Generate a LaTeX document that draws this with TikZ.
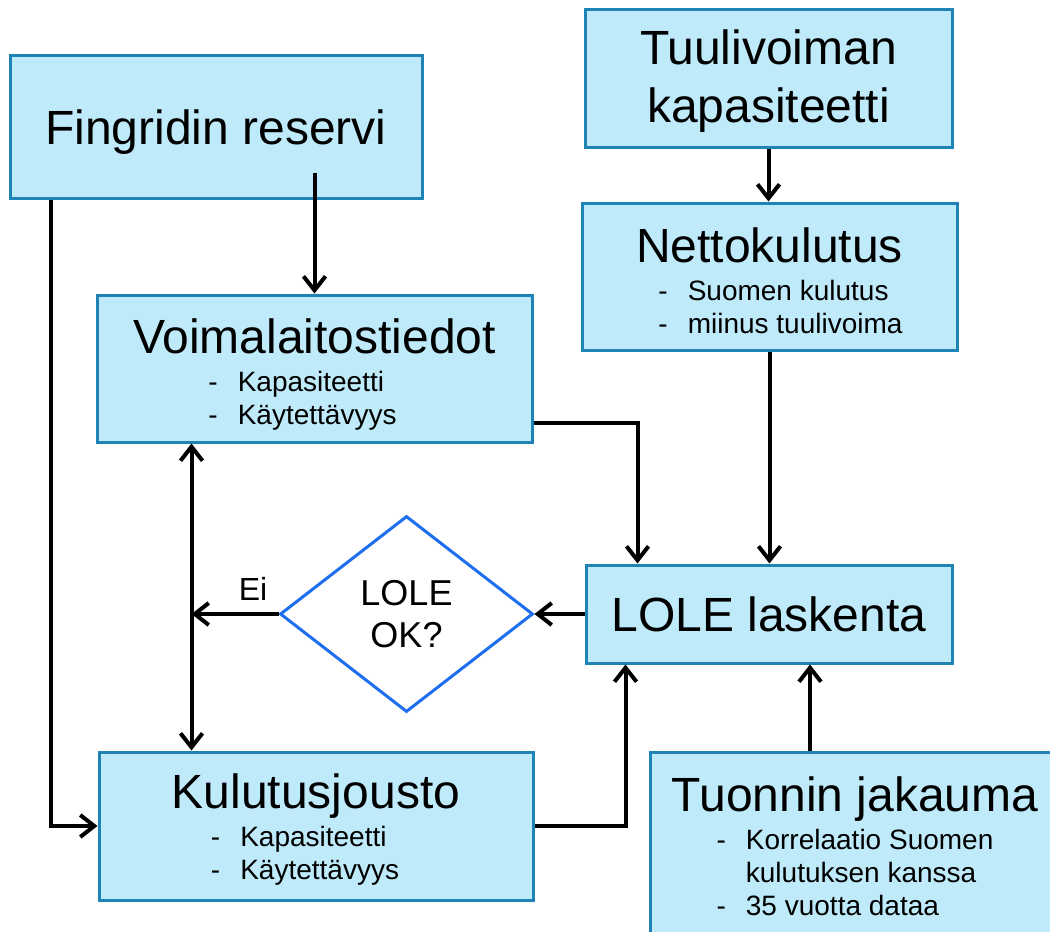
\documentclass[tikz,border=0pt]{standalone}
\usepackage{fontspec}
\setmainfont{Liberation Sans}
\usepackage{tikz}
\usetikzlibrary{arrows.meta,positioning,shapes.geometric}
\usepackage{xcolor}
\definecolor{boxfill}{HTML}{BEEAFA}
\definecolor{boxline}{HTML}{1F83B5}
\definecolor{checkline}{HTML}{1E6EF0}
\newcommand{\sublist}[2][0pt]{\hspace*{#1}{\fontsize{14}{16.5}\selectfont\begin{tabular}[t]{@{}l@{\hspace{10pt}}l@{}}#2\end{tabular}}}

\begin{document}
\begin{tikzpicture}[
      x=0.5pt, y=-0.5pt,
      >={Straight Barb[length=7pt,width=11pt]},
      block/.style={draw=boxline, fill=boxfill, line width=1.5pt, inner sep=0pt, align=center, font=\fontsize{24}{29}\selectfont},
      check/.style={draw=checkline, fill=white, line width=1.5pt, diamond, inner sep=0pt, minimum width=126.5pt, minimum height=98pt, align=center, font=\fontsize{18}{21}\selectfont},
      flow/.style={line width=2pt}
    ]
    \useasboundingbox (0,0) rectangle (1050,932);
    \clip (0,0) rectangle (1050,932);
    \node[block, minimum width=206pt, minimum height=71.5pt] (fingrid) at (216,126.5) {\rule{0pt}{23pt}Fingridin reservi};
    \node[block, minimum width=183.5pt, minimum height=69pt] (tuuli) at (768.5,78) {\rule{0pt}{20pt}Tuulivoiman\\kapasiteetti};
    \node[block, minimum width=187.5pt, minimum height=73.5pt] (netto) at (769.5,276.5) {\rule{0pt}{26.5pt}Nettokulutus\\[-10pt]\sublist[11pt]{- & Suomen kulutus\\ - & miinus tuulivoima}};
    \node[block, minimum width=217.5pt, minimum height=73.5pt] (voima) at (314.5,368.5) {\rule{0pt}{25.5pt}Voimalaitostiedot\\[-10pt]\sublist[-12pt]{- & Kapasiteetti\\ - & Käytettävyys}};
    \node[block, minimum width=183pt, minimum height=49pt] (lole) at (769,614) {LOLE laskenta};
    \node[check] (dia) at (406.5,614) {LOLE\\OK?};
    \node[block, minimum width=217pt, minimum height=74pt] (kulu) at (316,826) {\rule{0pt}{23pt}Kulutusjousto\\[-10pt]\sublist[-11pt]{- & Kapasiteetti\\ - & Käytettävyys}};
    \node[block, minimum width=205pt, minimum height=99pt] (tuonti) at (855,851) {Tuonnin jakauma\\[-10pt]\sublist{- & Korrelaatio Suomen\\ & kulutuksen kanssa\\ - & 35 vuotta dataa}};
    \node[font=\fontsize{16}{19}\selectfont, inner sep=0pt] (ei) at (253,589) {Ei};

    \path (fingrid.south -| voima.north) ++(0,-27) coordinate (fgin);
    \coordinate (va) at ([xshift=48pt]voima.south west);
    \coordinate (lin) at ([xshift=20.5pt]lole.south);

    \draw[flow,->] (fgin) -- (voima.north);
    \draw[flow,->] ([xshift=21pt]fingrid.south west) |- (kulu.west);
    \draw[flow,->] (tuuli.south) -- (tuuli.south |- netto.north);
    \draw[flow,->] (netto.south) -- (netto.south |- lole.north);
    \draw[flow,->] ([yshift=10.5pt]voima.south east) -| ([xshift=26.5pt]lole.north west);
    \draw[flow,->] (kulu.east) -| ([xshift=20.5pt]lole.south west);
    \draw[flow,->] (lin |- tuonti.north) -- (lin);
    \draw[flow,->] (lole.west) -- (dia.east);
    \draw[flow,->] (dia.west) -- (dia.west -| va);
    \draw[flow,<->] (va) -- (va |- kulu.north);
  \end{tikzpicture}
\end{document}
